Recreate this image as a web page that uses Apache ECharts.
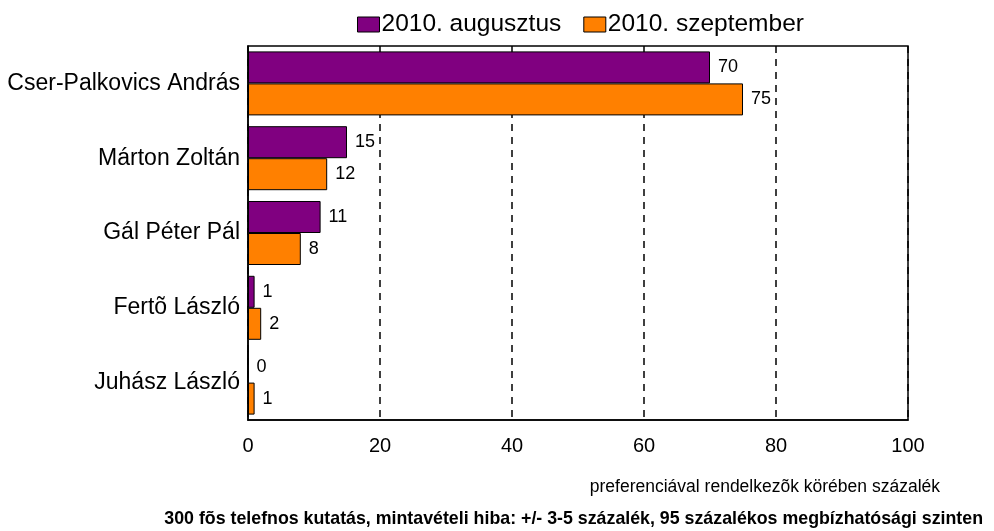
<!DOCTYPE html>
<html><head><meta charset="utf-8">
<script src="https://cdn.jsdelivr.net/npm/echarts@6/dist/echarts.min.js"></script>
<style>html,body{margin:0;padding:0;background:#fff}#c{width:994px;height:531px}</style>
</head><body><div id="c"></div>
<script>
var categories = ['Cser-Palkovics András', 'Márton Zoltán', 'Gál Péter Pál', 'Fertõ László', 'Juhász László'];
var seriesNames = ['2010. augusztus', '2010. szeptember'];
var augValues = [70, 15, 11, 1, 0];
var sepValues = [75, 12, 8, 2, 1];
var xTicks = [0, 20, 40, 60, 80, 100];
var axisTitle = 'preferenciával rendelkezõk körében százalék';
var footnote = '300 fõs telefnos kutatás, mintavételi hiba: +/- 3-5 százalék, 95 százalékos megbízhatósági szinten';

var FONT = 'Liberation Sans, Arial, sans-serif';
var chart = echarts.init(document.getElementById('c'));
var labelCfg = {show: true, position: 'right', distance: 8, color: '#000', fontFamily: FONT, fontSize: 18};
chart.setOption({
  animation: false,
  textStyle: {fontFamily: FONT},
  legend: {
    top: 7, left: 352, itemWidth: 22, itemHeight: 15, itemGap: 22, icon: 'rect',
    textStyle: {fontSize: 24.5, color: '#000', fontFamily: FONT, padding: [0, 0, 0, -3]},
    data: seriesNames.map(function(n){return {name: n, itemStyle: {borderColor: '#000', borderWidth: 1}};})
  },
  title: [
    {text: axisTitle, right: 49, top: 473, textStyle: {fontSize: 17.5, fontWeight: 'normal', color: '#000', fontFamily: FONT}},
    {text: footnote, right: 6, top: 505, textStyle: {fontSize: 17.8, fontWeight: 'bold', color: '#000', fontFamily: FONT}}
  ],
  grid: {left: 248, right: 86, top: 46, bottom: 111, show: true, borderColor: '#000', borderWidth: 1.5, containLabel: false},
  xAxis: {
    type: 'value', min: xTicks[0], max: xTicks[xTicks.length-1], interval: 20,
    axisLine: {show: true, lineStyle: {color: '#000', width: 1.5}},
    axisTick: {show: false},
    axisLabel: {color: '#000', fontSize: 20, margin: 16, fontFamily: FONT},
    splitLine: {show: true, lineStyle: {color: '#000', type: [7, 6], width: 1.5}}
  },
  yAxis: {
    type: 'category', data: categories, inverse: true,
    axisLine: {show: true, lineStyle: {color: '#000', width: 1.5}},
    axisTick: {show: false},
    axisLabel: {color: '#000', fontSize: 23, margin: 8, fontFamily: FONT}
  },
  series: [
    {name: seriesNames[0], type: 'bar', data: augValues, barWidth: 32, barGap: '0%', barCategoryGap: '14%',
     itemStyle: {color: '#800080', borderColor: '#000', borderWidth: 1}, label: labelCfg},
    {name: seriesNames[1], type: 'bar', data: sepValues, barWidth: 32, barGap: '0%',
     itemStyle: {color: '#ff8000', borderColor: '#000', borderWidth: 1}, label: labelCfg}
  ]
});
</script></body></html>
